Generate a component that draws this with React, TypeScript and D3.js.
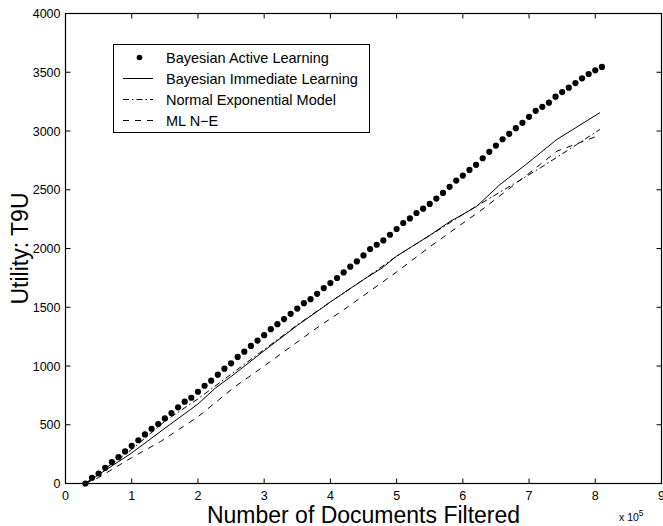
import * as d3 from "d3";

// documents filtered, in units of 1e5
const activeDocs = [
  0.3, 0.4, 0.5, 0.6, 0.7, 0.8, 0.9, 1.0, 1.1, 1.2, 1.3, 1.4, 1.5, 1.6, 1.7, 1.8, 1.9, 2.0,
  2.1, 2.2, 2.3, 2.4, 2.5, 2.6, 2.7, 2.8, 2.9, 3.0, 3.1, 3.2, 3.3, 3.4, 3.5, 3.6, 3.7, 3.8,
  3.9, 4.0, 4.1, 4.2, 4.3, 4.4, 4.5, 4.6, 4.7, 4.8, 4.9, 5.0, 5.1, 5.2, 5.3, 5.4, 5.5, 5.6,
  5.7, 5.8, 5.9, 6.0, 6.1, 6.2, 6.3, 6.4, 6.5, 6.6, 6.7, 6.8, 6.9, 7.0, 7.1, 7.2, 7.3, 7.4,
  7.5, 7.6, 7.7, 7.8, 7.9, 8.0, 8.1,
];
const activeUtility = [
  0, 48, 85, 133, 182, 224, 273, 321, 368, 418, 466, 506, 554, 600, 648, 696, 730, 781,
  832, 875, 926, 977, 1023, 1077, 1122, 1171, 1216, 1262, 1313, 1356, 1399, 1444, 1489, 1535, 1569, 1614,
  1663, 1706, 1749, 1796, 1845, 1890, 1941, 1995, 2032, 2069, 2117, 2166, 2217, 2256, 2302, 2339, 2379, 2425,
  2473, 2525, 2578, 2621, 2669, 2712, 2768, 2823, 2876, 2930, 2976, 3024, 3070, 3121, 3172, 3206, 3241, 3292,
  3331, 3369, 3408, 3448, 3485, 3516, 3545,
];

const immediateDocs = [0.3, 0.5, 1.0, 1.5, 2.0, 2.26, 2.5, 3.0, 3.5, 3.87, 4.0, 4.5, 4.78, 5.0, 5.5, 5.81, 6.0, 6.21, 6.56, 6.92, 7.42, 8.07];
const immediateUtility = [0, 75, 260, 470, 676, 811, 910, 1130, 1345, 1492, 1545, 1735, 1834, 1935, 2112, 2231, 2290, 2359, 2544, 2700, 2928, 3156];

const normalDocs = [0.3, 0.5, 1.0, 1.5, 2.0, 2.5, 3.0, 3.5, 4.0, 4.5, 5.0, 5.5, 6.0, 6.16, 6.67, 7.17, 7.72, 8.07];
const normalUtility = [0, 85, 290, 530, 720, 930, 1140, 1350, 1545, 1735, 1935, 2110, 2290, 2345, 2516, 2686, 2885, 3013];

const mlDocs = [0.3, 0.5, 0.75, 1.0, 1.43, 2.0, 2.56, 3.0, 3.79, 4.2, 5.0, 5.51, 6.0, 6.29, 7.0, 7.42, 8.07];
const mlUtility = [0, 50, 136, 220, 355, 568, 824, 1000, 1322, 1478, 1800, 2018, 2215, 2331, 2640, 2828, 2965];

const xTicks = [0, 1, 2, 3, 4, 5, 6, 7, 8, 9];
const yTicks = [0, 500, 1000, 1500, 2000, 2500, 3000, 3500, 4000];

const legendLabels = [
  "Bayesian Active Learning",
  "Bayesian Immediate Learning",
  "Normal Exponential Model",
  "ML N\u2212E",
];

const W = 663;
const H = 526;
const left = 65.5;
const right = 661.5;
const top = 13.5;
const bottom = 483.5;
const font = "'Liberation Sans', Arial, Helvetica, sans-serif";

export default function App() {
  const x = d3.scaleLinear().domain([0, 9]).range([left, right]);
  const y = d3.scaleLinear().domain([0, 4000]).range([bottom, top]);

  const mk = (xs: number[], ys: number[]) =>
    d3
      .line<number>()
      .x((_, i) => x(xs[i]))
      .y((d) => y(d))(ys) || "";

  const lines = [
    { d: mk(immediateDocs, immediateUtility), dash: undefined },
    { d: mk(normalDocs, normalUtility), dash: "6,3,1.5,3" },
    { d: mk(mlDocs, mlUtility), dash: "6,6" },
  ];

  const lg = { x: 113.5, y: 44.5, w: 256, h: 88 };
  const rowY = (i: number) => lg.y + 13 + i * 21;

  return (
    <svg
      width={W}
      height={H}
      style={{ position: "absolute", left: 0, top: 0, background: "#fff" }}
      fontFamily={font}
    >
      <rect x={0} y={0} width={W} height={H} fill="#fff" />

      {/* series */}
      {lines.map((l, i) => (
        <path key={i} d={l.d} fill="none" stroke="#000" strokeWidth={1} strokeDasharray={l.dash} />
      ))}
      {activeUtility.map((v, i) => (
        <circle key={i} cx={x(activeDocs[i])} cy={y(v)} r={3.1} fill="#000" />
      ))}

      {/* frame and ticks */}
      <rect x={left} y={top} width={right - left} height={bottom - top} fill="none" stroke="#000" strokeWidth={1.2} />
      {xTicks.map((t) => (
        <g key={t}>
          <line x1={x(t)} x2={x(t)} y1={bottom} y2={bottom - 5} stroke="#000" />
          <line x1={x(t)} x2={x(t)} y1={top} y2={top + 5} stroke="#000" />
          <text x={x(t)} y={bottom + 16} fontSize={12.5} textAnchor="middle">
            {t}
          </text>
        </g>
      ))}
      {yTicks.map((t) => (
        <g key={t}>
          <line x1={left} x2={left + 5} y1={y(t)} y2={y(t)} stroke="#000" />
          <line x1={right} x2={right - 5} y1={y(t)} y2={y(t)} stroke="#000" />
          <text x={left - 5} y={y(t) + 4.5} fontSize={12.5} textAnchor="end">
            {t}
          </text>
        </g>
      ))}

      {/* axis titles */}
      <text x={(left + right) / 2} y={523} fontSize={23} textAnchor="middle">
        Number of Documents Filtered
      </text>
      <text x={619} y={521} fontSize={10.5}>
        x 10
        <tspan dy={-5} fontSize={8.5}>
          5
        </tspan>
      </text>
      <text transform={`translate(28,${(top + bottom) / 2}) rotate(-90)`} fontSize={23} textAnchor="middle">
        Utility: T9U
      </text>

      {/* legend */}
      <rect x={lg.x} y={lg.y} width={lg.w} height={lg.h} fill="#fff" stroke="#000" strokeWidth={1} />
      {legendLabels.map((lab, i) => (
        <g key={lab}>
          {i === 0 ? (
            <circle cx={139.5} cy={rowY(i)} r={2.8} fill="#000" />
          ) : (
            <line
              x1={123}
              x2={153}
              y1={rowY(i)}
              y2={rowY(i)}
              stroke="#000"
              strokeDasharray={lines[i - 1].dash}
            />
          )}
          <text x={166} y={rowY(i) + 5} fontSize={14.5}>
            {lab}
          </text>
        </g>
      ))}
    </svg>
  );
}
